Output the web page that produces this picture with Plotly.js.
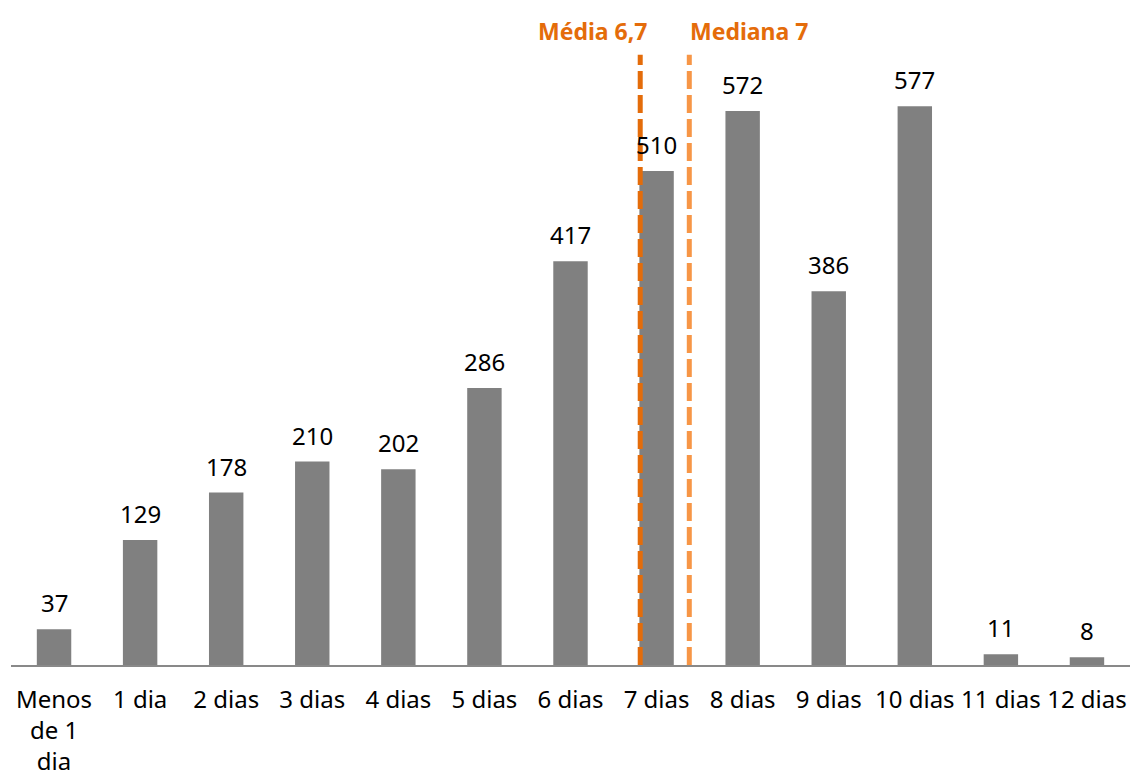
<!DOCTYPE html>
<html>
<head>
<meta charset="utf-8">
<script src="https://cdn.plot.ly/plotly-3.0.1.min.js"></script>
<style>html,body{margin:0;padding:0;background:#fff;}#chart{width:1133px;height:777px;}</style>
</head>
<body>
<div id="chart"></div>
<script>
const categories = ["Menos<br>de 1<br>dia", "1 dia", "2 dias", "3 dias", "4 dias", "5 dias", "6 dias", "7 dias", "8 dias", "9 dias", "10 dias", "11 dias", "12 dias"];
const counts = [37, 129, 178, 210, 202, 286, 417, 510, 572, 386, 577, 11, 8];
const refLabels = ["Média 6,7", "Mediana 7"];
const refPositions = [6.81, 7.38];
const refColors = ["#E46C0A", "#F79646"];
const refTop = 630;

const xIdx = categories.map((_, i) => i);

const traces = [{
  type: "bar",
  x: xIdx,
  y: counts,
  marker: {color: "#808080"},
  hoverinfo: "skip"
}];

refPositions.forEach((p, i) => {
  traces.push({
    type: "scatter",
    mode: "lines",
    x: [p, p],
    y: [0, refTop],
    line: {color: refColors[i], width: 5, dash: "18px,6px"},
    hoverinfo: "skip",
    cliponaxis: false
  });
});

const valueLabels = counts.map((v, i) => ({
  x: xIdx[i],
  y: v,
  xref: "x",
  yref: "y",
  yanchor: "bottom",
  yshift: 8,
  text: String(v),
  showarrow: false,
  font: {family: "Noto Sans", size: 24, color: "#000"}
}));

const refAnnotations = refLabels.map((t, i) => ({
  x: refPositions[i] + (i === 0 ? 0.1 : -0.01),
  y: 1.0,
  xref: "x",
  yref: "paper",
  yanchor: "bottom",
  xanchor: i === 0 ? "right" : "left",
  yshift: 1,
  text: "<b>" + t + "</b>",
  showarrow: false,
  font: {family: "Noto Sans", size: 23, color: "#E46C0A"}
}));

const layout = {
  width: 1133,
  height: 777,
  margin: {l: 11, r: 3, t: 50, b: 112},
  paper_bgcolor: "#fff",
  plot_bgcolor: "#fff",
  showlegend: false,
  bargap: 0.6,
  xaxis: {
    tickmode: "array",
    tickvals: xIdx,
    ticktext: categories,
    range: [-0.5, 12.5],
    showgrid: false,
    zeroline: false,
    showline: true,
    linecolor: "#898989",
    linewidth: 2,
    ticks: "outside",
    ticklen: 12,
    tickcolor: "rgba(0,0,0,0)",
    tickfont: {family: "Noto Sans", size: 24, color: "#000"},
    fixedrange: true
  },
  yaxis: {
    range: [0, 635],
    visible: false,
    showgrid: false,
    zeroline: false,
    fixedrange: true
  },
  annotations: valueLabels.concat(refAnnotations)
};

Plotly.newPlot("chart", traces, layout, {displayModeBar: false, staticPlot: true});
</script>
</body>
</html>
